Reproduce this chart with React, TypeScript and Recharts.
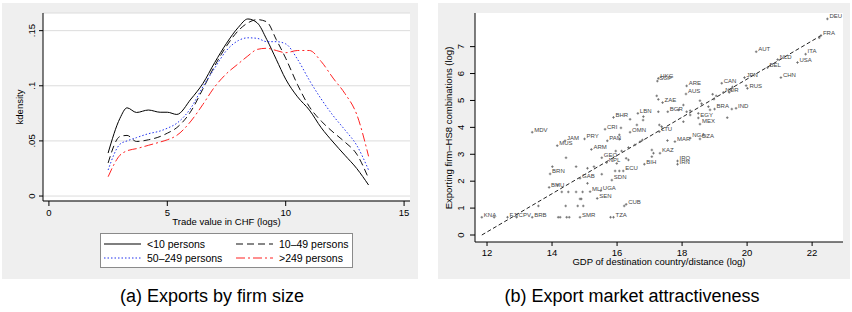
import React from 'react';
import { ComposedChart, Line, Scatter, XAxis, YAxis, CartesianGrid } from 'recharts';

const FONT = '"Liberation Sans", Arial, Helvetica, sans-serif';
const BG = '#efefef';

// (a) kernel densities of log trade value, by firm size
const tradeGrid = [2.5, 3.0, 3.3, 3.7, 4.2, 4.7, 5.0, 5.4, 6.0, 6.5, 7.0, 7.5, 8.0, 8.4, 8.8, 9.2, 9.6, 10.0, 10.5, 11.0, 11.5, 12.0, 12.5, 13.0, 13.5];
const densUnder10 = [0.039, 0.0705, 0.080, 0.0758, 0.078, 0.076, 0.076, 0.074, 0.088, 0.102, 0.121, 0.1385, 0.153, 0.1606, 0.157, 0.142, 0.124, 0.106, 0.090, 0.078, 0.062, 0.049, 0.037, 0.025, 0.010];
const dens10to49 = [0.030, 0.054, 0.055, 0.0495, 0.051, 0.054, 0.057, 0.062, 0.077, 0.097, 0.118, 0.136, 0.150, 0.157, 0.160, 0.158, 0.142, 0.125, 0.101, 0.081, 0.068, 0.058, 0.049, 0.038, 0.016];
const dens50to249 = [0.0236, 0.047, 0.050, 0.053, 0.0565, 0.059, 0.0615, 0.066, 0.080, 0.099, 0.116, 0.132, 0.141, 0.1435, 0.143, 0.140, 0.140, 0.138, 0.124, 0.105, 0.088, 0.073, 0.060, 0.046, 0.0236];
const densOver249 = [0.0175, 0.037, 0.041, 0.043, 0.046, 0.049, 0.051, 0.055, 0.068, 0.083, 0.099, 0.111, 0.120, 0.127, 0.133, 0.134, 0.132, 0.130, 0.132, 0.132, 0.122, 0.107, 0.093, 0.074, 0.036];
const tradeTicks = [0, 5, 10, 15];
const densTicks = [0, 0.05, 0.1, 0.15];
const sizeLabels = ['<10 persons', '10–49 persons', '50–249 persons', '>249 persons'];

// (b) destinations: GDP/distance vs number of exporting firm-HS8 combinations
const countryCode = [
  'DEU', 'FRA', '', 'AUT', 'NLD', 'ITA', 'USA', 'BEL', 'CHN', 'JPN', 'RUS', '', 'CAN', 'NOR', '', '', '',
  'ARE', 'AUS', 'HKG', 'SGP', '', '', 'ZAE', '', '', '', '', '', '', '', '',
  'BGR', '', '', '', '', '', 'LBN', 'BHR', '', '', 'BRA', 'IND', '', '', 'EGY', 'MEX', '', '',
  'CRI', '', 'OMN', '', '', '', 'LTU', 'MDV', 'JAM', 'MUS', 'PRY', 'PAN', '', '', 'ARM', '', 'GEO', 'NPL',
  '', '', '', '', '', '', '', '', '', '', '', '', '', '', 'MAR', 'NGA', 'DZA', 'KAZ', 'BIH', 'IRQ', 'IRN',
  'ECU', '', '', '', 'BRN', '', '', '', '', 'GAB', '', 'SDN', 'BMU', '', '', '', '', '', 'MLI', 'UGA', 'SEN',
  '', '', '', '', '', '', 'CUB', '', 'KNA', '', 'FJI', 'CPV', 'BRB', '', '', '', '', 'SMR', 'TZA', '',
];
const gdpDist = [
  22.47, 22.27, 22.22, 20.28, 20.94, 21.80, 21.55, 20.63, 21.04, 19.92, 20.01, 19.97, 19.22, 19.27, 19.45, 19.52, 19.55,
  18.14, 18.12, 17.27, 17.24, 17.22, 17.27, 17.40, 18.04, 18.55, 18.60, 18.81, 18.86, 18.98, 19.05, 18.94,
  17.56, 17.27, 17.89, 18.14, 18.25, 18.50, 16.64, 15.89, 16.40, 16.81, 19.00, 19.66, 19.53, 19.39, 18.50, 18.55, 18.04, 18.25,
  15.63, 16.12, 16.40, 16.61, 17.30, 17.37, 17.30, 13.39, 14.40, 14.16, 15.00, 15.70, 16.07, 16.07, 15.21, 14.43, 15.53, 15.68,
  16.28, 16.35, 15.99, 16.14, 15.96, 16.35, 16.55, 16.71, 16.78, 17.07, 17.12, 17.07, 17.55, 16.80, 17.78, 18.25, 18.55, 17.32, 16.84, 17.86, 17.86,
  16.19, 15.94, 16.07, 15.53, 13.94, 14.01, 14.74, 15.09, 15.29, 14.86, 15.09, 15.84, 13.91, 14.17, 14.30, 14.50, 14.74, 14.94, 15.17, 15.50, 15.39,
  14.86, 14.90, 13.58, 14.42, 14.79, 14.96, 16.28, 16.22, 11.84, 12.22, 12.63, 12.91, 13.39, 14.19, 14.25, 14.45, 14.53, 14.86, 15.89, 15.80,
];
const firmCombos = [
  8.03, 7.41, 7.33, 6.81, 6.52, 6.72, 6.41, 6.22, 5.85, 5.85, 5.45, 5.55, 5.64, 5.30, 5.30, 5.38, 5.50,
  5.54, 5.24, 5.82, 5.72, 5.17, 5.04, 4.92, 4.83, 4.99, 4.88, 4.77, 4.65, 5.05, 5.17, 5.23,
  4.58, 4.58, 4.65, 4.58, 4.62, 4.52, 4.52, 4.37, 4.30, 4.40, 4.68, 4.71, 4.68, 4.36, 4.35, 4.12, 4.21, 4.46,
  3.93, 3.98, 3.82, 4.09, 4.09, 4.03, 3.84, 3.82, 3.50, 3.32, 3.57, 3.50, 3.72, 3.56, 3.18, 2.87, 2.87, 2.69,
  2.85, 2.79, 2.66, 3.12, 3.12, 3.25, 3.35, 3.47, 3.53, 3.16, 3.04, 2.91, 3.51, 4.27, 3.47, 3.60, 3.57, 3.04, 2.63, 2.75, 2.63,
  2.38, 2.38, 2.38, 2.26, 2.27, 2.54, 2.54, 2.48, 2.54, 2.11, 1.92, 2.04, 1.77, 1.86, 1.60, 1.60, 1.60, 1.60, 1.61, 1.65, 1.36,
  1.34, 1.34, 1.08, 1.08, 1.08, 1.08, 1.14, 1.08, 0.66, 0.66, 0.66, 0.66, 0.66, 0.66, 0.66, 0.66, 0.66, 0.66, 0.66, 0.66,
];
const fitX = [11.84, 22.3];
const fitY = [0, 7.43];
const gdpTicks = [12, 14, 16, 18, 20, 22];
const comboTicks = [0, 1, 2, 3, 4, 5, 6, 7];

const densityData = tradeGrid.map((x, i) => ({
  x,
  s1: densUnder10[i],
  s2: dens10to49[i],
  s3: dens50to249[i],
  s4: densOver249[i],
}));
const countryData = gdpDist.map((x, i) => ({ x, y: firmCombos[i], code: countryCode[i] }));
const fitData = fitX.map((x, i) => ({ x, y: fitY[i] }));

const lineStyles = [
  { key: 's1', stroke: '#000000', dash: undefined },
  { key: 's2', stroke: '#111111', dash: '7 4' },
  { key: 's3', stroke: '#2233ee', dash: '1.5 2' },
  { key: 's4', stroke: '#ff2222', dash: '9 3 2 3' },
];

const fmtDens = (v: number) => (v === 0 ? '0' : String(v).replace(/^0/, ''));

const VTick = (props: any) => {
  const { x, y, payload, fmt } = props;
  return (
    <text x={x} y={y} transform={`rotate(-90, ${x}, ${y})`} textAnchor="middle" fontSize={9.5} fontFamily={FONT} fill="#000">
      {fmt ? fmt(payload.value) : payload.value}
    </text>
  );
};

const CountryMark = (props: any) => {
  const { cx, cy, payload } = props;
  if (cx == null || cy == null) return null;
  return (
    <g>
      <path d={`M${cx - 1.3},${cy}H${cx + 1.3}M${cx},${cy - 1.3}V${cy + 1.3}`} stroke="#666" strokeWidth={0.8} fill="none" />
      {payload.code ? (
        <text x={cx + 2} y={cy - 0.7} fontSize={6} fontFamily={FONT} fill="#444">
          {payload.code}
        </text>
      ) : null}
    </g>
  );
};

const txt = (s: React.CSSProperties): React.CSSProperties => ({
  position: 'absolute',
  fontFamily: FONT,
  whiteSpace: 'nowrap',
  color: '#000',
  ...s,
});

const axisTick = { fontSize: 9.5, fontFamily: FONT, fill: '#000' };

const App = () => {
  return (
    <div style={{ position: 'absolute', left: 0, top: 0, width: 852, height: 312, background: '#fff', overflow: 'hidden' }}>
      {/* panel (a) */}
      <div style={{ position: 'absolute', left: 2, top: 3, width: 416, height: 276, background: BG }}>
        <ComposedChart width={416} height={276} data={densityData} margin={{ top: 10, right: 8, left: 21, bottom: 58 }}>
          <CartesianGrid vertical={false} stroke="#dcdcdc" fill="#fff" />
          <XAxis
            type="number"
            dataKey="x"
            domain={[-0.25, 15.25]}
            ticks={tradeTicks}
            allowDataOverflow
            height={20}
            stroke="#000"
            tickSize={5}
            tickMargin={3}
            tick={axisTick}
          />
          <YAxis
            type="number"
            domain={[-0.0045, 0.166]}
            ticks={densTicks}
            allowDataOverflow
            width={20}
            stroke="#000"
            tickSize={4}
            tickMargin={4}
            tick={<VTick fmt={fmtDens} />}
          />
          {lineStyles.map((s) => (
            <Line
              key={s.key}
              type="monotone"
              dataKey={s.key}
              stroke={s.stroke}
              strokeWidth={1}
              strokeDasharray={s.dash}
              dot={false}
              activeDot={false}
              isAnimationActive={false}
            />
          ))}
        </ComposedChart>
      </div>
      <div style={txt({ left: 20 - 60, top: 107 - 5, width: 120, fontSize: 9.5, lineHeight: '10px', textAlign: 'center', transform: 'rotate(-90deg)' })}>
        kdensity
      </div>
      <div style={txt({ left: 126.5, top: 217, width: 200, fontSize: 9.5, lineHeight: '10px', textAlign: 'center' })}>
        Trade value in CHF (logs)
      </div>
      <div style={{ position: 'absolute', left: 100, top: 233, width: 251, height: 33, background: '#fff', border: '1px solid #8a8a8a' }}>
        {lineStyles.map((s, i) => {
          const col = i % 2;
          const row = Math.floor(i / 2);
          return (
            <div key={s.key} style={{ position: 'absolute', left: col === 0 ? 3 : 135, top: row === 0 ? 4 : 18, height: 12 }}>
              <svg width={38} height={12} style={{ position: 'absolute', left: 0, top: 0 }}>
                <line x1={0} y1={6} x2={37} y2={6} stroke={s.stroke} strokeWidth={1.2} strokeDasharray={s.dash} />
              </svg>
              <div style={txt({ left: 43, top: 0, fontSize: 10.5, lineHeight: '12px' })}>{sizeLabels[i]}</div>
            </div>
          );
        })}
      </div>
      <div style={txt({ left: 60, top: 287, width: 304, fontSize: 18, lineHeight: '18px', textAlign: 'center' })}>
        (a) Exports by firm size
      </div>

      {/* panel (b) */}
      <div style={{ position: 'absolute', left: 438, top: 3, width: 412, height: 276, background: BG }}>
        <ComposedChart width={412} height={276} margin={{ top: 10, right: 7, left: 17, bottom: 17 }}>
          <CartesianGrid horizontal={false} vertical={false} stroke="none" fill="#fff" />
          <XAxis
            type="number"
            dataKey="x"
            domain={[11.63, 22.95]}
            ticks={gdpTicks}
            allowDataOverflow
            height={20}
            stroke="#000"
            tickSize={4}
            tickMargin={3}
            tick={axisTick}
          />
          <YAxis
            type="number"
            dataKey="y"
            domain={[-0.26, 8.25]}
            ticks={comboTicks}
            allowDataOverflow
            width={20}
            stroke="#000"
            tickSize={5}
            tickMargin={6}
            tick={<VTick />}
          />
          <Line
            data={fitData}
            type="linear"
            dataKey="y"
            stroke="#222"
            strokeWidth={1}
            strokeDasharray="4 2.5"
            dot={false}
            activeDot={false}
            isAnimationActive={false}
          />
          <Scatter data={countryData} dataKey="y" shape={<CountryMark />} isAnimationActive={false} />
        </ComposedChart>
      </div>
      <div style={txt({ left: 449 - 110, top: 128 - 5, width: 220, fontSize: 9.5, lineHeight: '10px', textAlign: 'center', transform: 'rotate(-90deg)' })}>
        Exporting firm–HS8 combinations (log)
      </div>
      <div style={txt({ left: 559, top: 256.5, width: 200, fontSize: 9.5, lineHeight: '10px', textAlign: 'center' })}>
        GDP of destination country/distance (log)
      </div>
      <div style={txt({ left: 432, top: 287, width: 400, fontSize: 18, lineHeight: '18px', textAlign: 'center' })}>
        (b) Export market attractiveness
      </div>
    </div>
  );
};

export default App;
